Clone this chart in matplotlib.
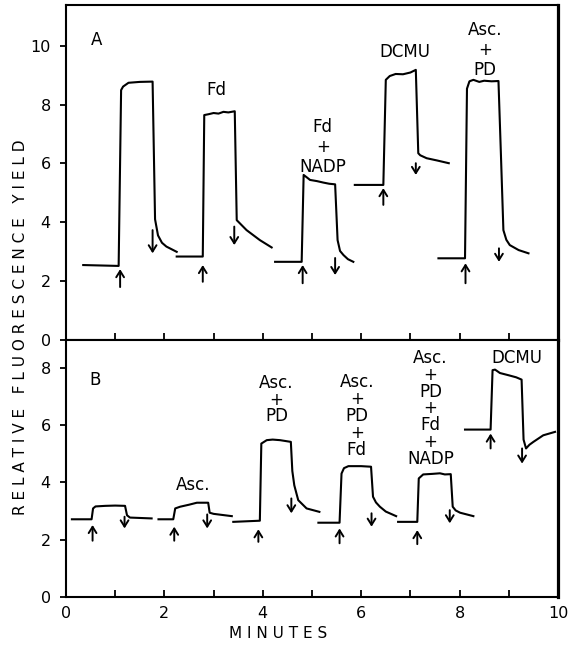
import matplotlib
matplotlib.use('Agg')
import matplotlib.pyplot as plt
from matplotlib.ticker import MultipleLocator

# ---- panel A traces (minutes, relative yield) ----
a_t = [[0.35, 1.07, 1.12, 1.16, 1.27, 1.50, 1.76, 1.81, 1.87, 1.95, 2.04, 2.25],
       [2.25, 2.78, 2.81, 2.90, 3.00, 3.10, 3.20, 3.30, 3.43, 3.47, 3.67, 3.94, 4.18],
       [4.25, 4.79, 4.83, 4.90, 4.96, 5.10, 5.23, 5.35, 5.47, 5.52, 5.57, 5.64, 5.73, 5.84],
       [5.87, 6.45, 6.50, 6.58, 6.70, 6.85, 7.00, 7.11, 7.16, 7.20, 7.33, 7.55, 7.78],
       [7.57, 8.11, 8.15, 8.20, 8.28, 8.40, 8.50, 8.65, 8.79, 8.84, 8.89, 8.95, 9.02, 9.20, 9.40]]
a_y = [[2.54, 2.51, 8.50, 8.62, 8.75, 8.78, 8.79, 4.10, 3.55, 3.30, 3.17, 2.99],
       [2.83, 2.83, 7.65, 7.68, 7.72, 7.70, 7.76, 7.74, 7.78, 4.07, 3.73, 3.39, 3.14],
       [2.65, 2.65, 5.61, 5.52, 5.44, 5.40, 5.35, 5.31, 5.29, 3.39, 3.02, 2.88, 2.74, 2.65],
       [5.27, 5.27, 8.85, 8.98, 9.05, 9.04, 9.10, 9.19, 6.35, 6.28, 6.18, 6.10, 6.01],
       [2.77, 2.77, 8.55, 8.80, 8.85, 8.78, 8.82, 8.80, 8.81, 6.30, 3.73, 3.40, 3.22, 3.05, 2.94]]

# ---- panel B traces ----
b_t = [[0.12, 0.52, 0.55, 0.60, 0.80, 1.00, 1.20, 1.24, 1.30, 1.74],
       [1.88, 2.18, 2.22, 2.32, 2.50, 2.66, 2.89, 2.92, 3.00, 3.37],
       [3.40, 3.94, 3.97, 4.08, 4.20, 4.35, 4.57, 4.60, 4.64, 4.72, 4.89, 5.15],
       [5.13, 5.56, 5.60, 5.65, 5.74, 6.00, 6.20, 6.24, 6.30, 6.38, 6.50, 6.71],
       [6.75, 7.14, 7.17, 7.26, 7.45, 7.60, 7.70, 7.82, 7.86, 7.92, 8.01, 8.28],
       [8.11, 8.63, 8.67, 8.72, 8.82, 9.00, 9.15, 9.26, 9.30, 9.35, 9.42, 9.50, 9.70, 9.94]]
b_y = [[2.71, 2.71, 3.09, 3.16, 3.18, 3.19, 3.18, 2.85, 2.77, 2.74],
       [2.71, 2.71, 3.09, 3.15, 3.22, 3.29, 3.29, 2.94, 2.90, 2.82],
       [2.62, 2.66, 5.36, 5.48, 5.50, 5.48, 5.42, 4.40, 3.90, 3.38, 3.09, 2.97],
       [2.59, 2.59, 4.31, 4.50, 4.57, 4.57, 4.55, 3.50, 3.30, 3.15, 2.98, 2.82],
       [2.62, 2.62, 4.14, 4.28, 4.30, 4.32, 4.28, 4.29, 3.15, 3.02, 2.94, 2.82],
       [5.85, 5.85, 7.93, 7.95, 7.83, 7.75, 7.68, 7.60, 5.50, 5.19, 5.32, 5.42, 5.65, 5.77]]

# light on / off arrows: x, tail y, head y
a_arrow_x = [1.10, 2.78, 4.81, 6.45, 8.12, 1.76, 3.42, 5.47, 7.11, 8.80]
a_arrow_from = [1.79, 1.97, 1.92, 4.59, 1.92, 3.73, 3.85, 2.78, 6.01, 3.11]
a_arrow_to = [2.40, 2.54, 2.54, 5.16, 2.60, 2.94, 3.22, 2.20, 5.61, 2.65]
b_arrow_x = [0.54, 2.20, 3.91, 5.56, 7.14, 8.63, 1.19, 2.87, 4.58, 6.21, 7.80, 9.27]
b_arrow_from = [1.96, 1.96, 1.92, 1.87, 1.84, 5.19, 2.80, 2.88, 3.44, 2.92, 3.03, 5.19]
b_arrow_to = [2.51, 2.45, 2.36, 2.39, 2.33, 5.71, 2.39, 2.39, 2.92, 2.45, 2.57, 4.66]

# additions
a_labels = ['Fd', 'Fd\n+\nNADP', 'DCMU', 'Asc.\n+\nPD']
a_label_x = [3.06, 5.22, 6.89, 8.52]
a_label_y = [8.5, 6.57, 9.81, 9.87]
b_labels = ['Asc.', 'Asc.\n+\nPD', 'Asc.\n+\nPD\n+\nFd', 'Asc.\n+\nPD\n+\nFd\n+\nNADP', 'DCMU']
b_label_x = [2.59, 4.28, 5.91, 7.41, 9.16]
b_label_y = [3.91, 6.90, 6.33, 6.59, 8.34]

W, H = 576, 645
fig = plt.figure(figsize=(W / 100, H / 100), dpi=100)
axA = fig.add_axes([66 / W, 1 - 339.6 / H, 492 / W, 334.6 / H])
axB = fig.add_axes([66 / W, 1 - 596.7 / H, 492 / W, 257.1 / H])

lw = 1.5
for ax, ts, ys, ax_x, ax_f, ax_t in [(axA, a_t, a_y, a_arrow_x, a_arrow_from, a_arrow_to),
                                      (axB, b_t, b_y, b_arrow_x, b_arrow_from, b_arrow_to)]:
    for t, y in zip(ts, ys):
        ax.plot(t, y, color='black', lw=lw, solid_joinstyle='round')
    for x, y0, y1 in zip(ax_x, ax_f, ax_t):
        ax.annotate('', xy=(x, y1), xytext=(x, y0),
                    arrowprops=dict(arrowstyle='->,head_length=0.45,head_width=0.28',
                                    color='black', lw=1.4, shrinkA=0, shrinkB=0))
    ax.set_xlim(0, 10)
    ax.xaxis.set_major_locator(MultipleLocator(2))
    ax.xaxis.set_minor_locator(MultipleLocator(1))
    ax.tick_params(axis='x', which='both', direction='in', length=5, width=1.3,
                   labelsize=11.5, pad=7, top=False)
    ax.tick_params(axis='y', direction='out', length=4, width=1.3, labelsize=11.5, pad=7, right=False)
    for s in ax.spines.values():
        s.set_linewidth(1.5)
    ax.spines['right'].set_linewidth(2.3)

axA.set_ylim(0, 11.4)
axA.set_yticks([0, 2, 4, 6, 8, 10])
axA.tick_params(axis='x', labelbottom=False)
axB.set_ylim(0, 9.0)
axB.set_yticks([0, 2, 4, 6, 8])

axA.text(0.62, 10.2, 'A', fontsize=12, ha='center', va='center')
axB.text(0.59, 7.58, 'B', fontsize=12, ha='center', va='center')
for s, x, y in zip(a_labels, a_label_x, a_label_y):
    axA.text(x, y, s, fontsize=12, ha='center', va='center', linespacing=1.15)
for s, x, y in zip(b_labels, b_label_x, b_label_y):
    axB.text(x, y, s, fontsize=12, ha='center', va='center', linespacing=0.92)

ylab = '   '.join(' '.join(w) for w in 'RELATIVE FLUORESCENCE YIELD'.split())
fig.text(21 / W, 1 - 327 / H, ylab, rotation=90, fontsize=11, ha='center', va='center')
fig.text(278 / W, 1 - 633 / H, ' '.join('MINUTES'), fontsize=11, ha='center', va='center')

fig.savefig('out.png', dpi=100)
